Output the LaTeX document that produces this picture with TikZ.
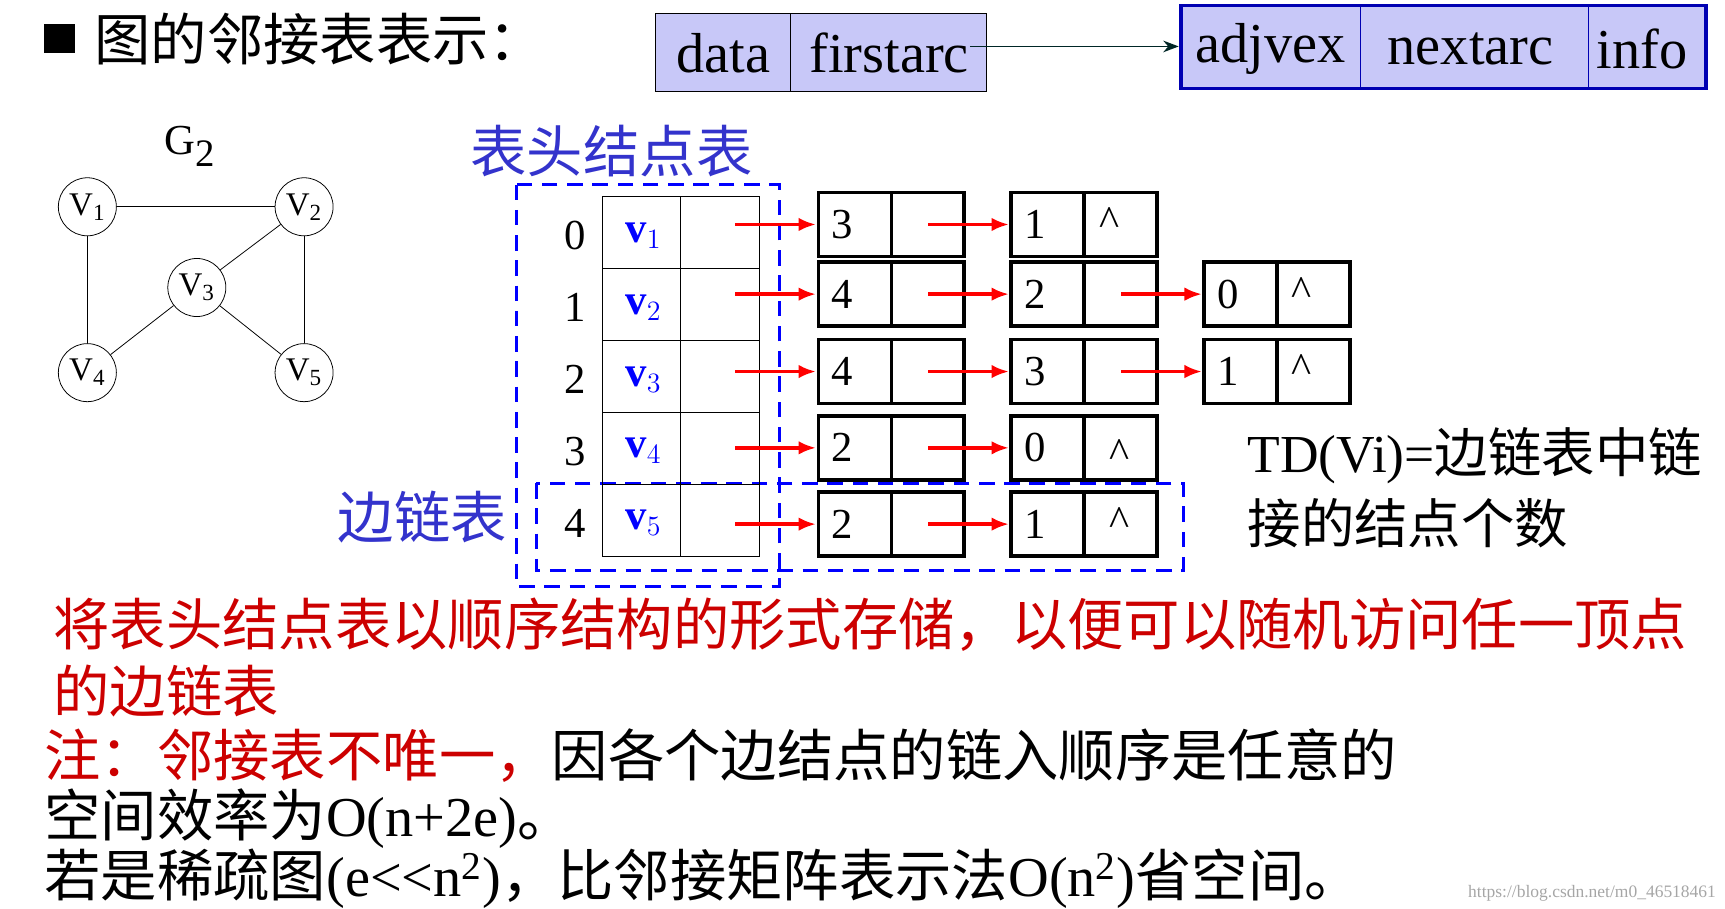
\documentclass[tikz,border=0pt]{standalone}
\usepackage{fontspec}
\setmainfont{Liberation Serif}
\newfontfamily\cjk{Noto Sans CJK SC}
\newfontfamily\tm{Liberation Serif}
\usepackage{xcolor}
\usetikzlibrary{arrows.meta}
\definecolor{hdblue}{RGB}{51,51,204}
\definecolor{hdred}{RGB}{204,0,0}
\definecolor{lav}{RGB}{200,200,248}
\newcommand{\bigsz}{\fontsize{29}{34}\selectfont}
\newcommand{\midsz}{\fontsize{22}{26}\selectfont}
\tikzset{
  vert/.style={circle, draw, minimum size=1.05cm, inner sep=0pt, font=\tm\fontsize{17}{20}\selectfont},
  lbl/.style={anchor=west, inner sep=0pt},
  redarr/.style={-{Latex[length=9pt,width=7pt]}, red, line width=2pt},
  dashbox/.style={draw=blue, line width=1.6pt, dash pattern=on 8pt off 5pt}
}
\begin{document}
\begin{tikzpicture}[x=0.02cm, y=-0.02cm]
\useasboundingbox (0,0) rectangle (1560,822);

% title
\fill (40,22) rectangle (68,48);
\node (title) [lbl] at (85,35) {\cjk\bigsz 图的邻接表表示：};

% node formats
\draw[fill=lav] (593,12) rectangle (892,83);
\draw (715,12) -- (715,83);
\node (data) at (654,48) {\bigsz data};
\node (first) at (804,48) {\bigsz firstarc};
\draw[fill=lav, draw=blue!70!black, line width=2pt] (1068,5) rectangle (1543,80);
\draw[blue!70!black] (1230,5) -- (1230,80) (1436,5) -- (1436,80);
\node (adj) at (1149,44) {\bigsz adjvex};
\node (nxt) at (1330,44) {\bigsz nextarc};
\node (info) at (1485,44) {\bigsz info};
\coordinate (fa) at (877,42);
\coordinate (ad) at (1066,42);
\draw[-{Stealth[length=8pt]}, thick, black!70!teal] (fa) -- (ad);

% graph G2
\node (g2) at (172,132) {\tm\fontsize{22}{26}\selectfont G\textsubscript{\fontsize{20}{22}\selectfont 2}};
\node (v1) [vert] at (79,187) {V\textsubscript{1}};
\node (v2) [vert] at (275,187) {V\textsubscript{2}};
\node (v3) [vert] at (178,260) {V\textsubscript{3}};
\node (v4) [vert] at (79,337) {V\textsubscript{4}};
\node (v5) [vert] at (275,337) {V\textsubscript{5}};
\draw (v1) -- (v2);
\draw (v1) -- (v4);
\draw (v2) -- (v3);
\draw (v2) -- (v5);
\draw (v3) -- (v4);
\draw (v3) -- (v5);

% header table
\node (hdr) at (553,137) {\cjk\bigsz\color{hdblue}表头结点表};
\node (edl) at (382,468) {\cjk\bigsz\color{hdblue}边链表};
\draw[dashbox] (467,167) rectangle (705,530);
\draw[dashbox] (485,437) rectangle (1070,516);
\foreach \i/\y in {0/178,1/243,2/308,3/373,4/438} {
  \draw (545,\y) rectangle (615,\y+65);
  \draw (615,\y) rectangle (687,\y+65);
  \node (idx\i) at (520,\y+35) {\midsz\i};
  \pgfmathtruncatemacro{\k}{\i+1}
  \node (hv\i) at (582,\y+35) {\midsz\bfseries\color{blue}v$_{\k}$};
}

% edge lists
\foreach \r/\yt/\yb/\lst in {0/174/232/{3,1},1/237/295/{4,2,0},2/307/365/{4,3,1},3/376/434/{2,0},4/445/503/{2,1}} {
  \pgfmathsetmacro{\yc}{(\yt+\yb)/2}
  \foreach \v [count=\c] in \lst {
    \pgfmathsetmacro{\xl}{740+(\c-1)*174.5}
    \draw[line width=1.8pt] (\xl,\yt) rectangle (\xl+132,\yb);
    \draw[line width=1.8pt] (\xl+66,\yt) -- (\xl+66,\yb);
    \node (e\r\c) at (\xl+22,\yc) {\midsz\v};
    \draw[redarr] (\xl-75,\yc) -- (\xl-2,\yc);
  }
}
\node (n02) at (1003,200) {\midsz\^{}};
\node (n13) at (1177,264) {\midsz\^{}};
\node (n23) at (1177,333) {\midsz\^{}};
\node (n32) at (1012,410) {\midsz\^{}};
\node (n42) at (1012,472) {\midsz\^{}};

% degree note
\node (td) [lbl] at (1128,412) {\fontsize{27.5}{32}\selectfont TD(Vi)={\cjk 边链表中链}};
\node (td2) [lbl] at (1128,473) {\cjk\fontsize{27.5}{32}\selectfont 接的结点个数};

% remarks
\node (r1) [lbl] at (48,565) {\cjk\bigsz\color{hdred}将表头结点表以顺序结构的形式存储，以便可以随机访问任一顶点};
\node (r2) [lbl] at (48,625) {\cjk\bigsz\color{hdred}的边链表};
\node (r3) [lbl] at (40,683) {\cjk\bigsz{\color{hdred}注：邻接表不唯一，}因各个边结点的链入顺序是任意的};
\node (r4) [lbl] at (40,740) {\bigsz{\cjk 空间效率为}O(n+2e){\cjk 。}};
\node (r5) [lbl] at (40,795) {\bigsz{\cjk 若是稀疏图}(e{<}{<}n\textsuperscript{2}){\cjk ，比邻接矩阵表示法}O(n\textsuperscript{2}){\cjk 省空间。}};
\node (wm) [anchor=east, text=black!35, font=\fontsize{9}{10}\selectfont] at (1558,808) {https://blog.csdn.net/m0\_46518461};
\end{tikzpicture}
\end{document}
